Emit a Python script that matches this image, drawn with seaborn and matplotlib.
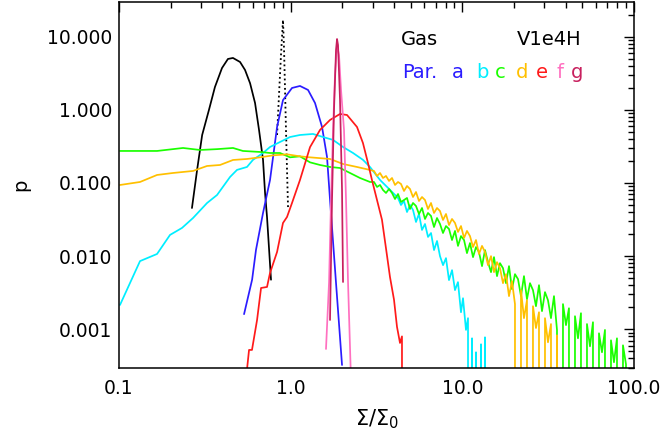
import matplotlib
matplotlib.use("Agg")
import matplotlib.pyplot as plt
from matplotlib.ticker import FixedLocator, FixedFormatter, NullFormatter
import pandas as pd
import seaborn as sns

# ---- probability distributions of Sigma/Sigma_0 -------------------------
gas_x = [0.266, 0.285, 0.305, 0.334, 0.362, 0.398, 0.431, 0.461, 0.507, 0.542,
         0.580, 0.620, 0.654, 0.690, 0.709, 0.728, 0.768]
gas_y = [0.0455, 0.151, 0.453, 0.995, 2.05, 3.73, 4.96, 5.12, 4.51, 3.51,
         2.31, 1.24, 0.531, 0.207, 0.073, 0.0343, 0.00476]

gas_dot_x = [0.833, 0.855, 0.878, 0.902, 0.915, 0.927, 0.939, 0.952, 0.965]
gas_dot_y = [0.453, 1.60, 5.62, 16.9, 6.58, 1.87, 0.531, 0.151, 0.0469]

a_x = [0.535, 0.596, 0.628, 0.690, 0.758, 0.833, 0.902, 1.018, 1.133, 1.262,
       1.386, 1.523, 1.628, 1.695, 1.837, 1.991]
a_y = [0.00161, 0.00476, 0.0122, 0.0389, 0.110, 0.583, 1.36, 1.99, 2.12, 1.87,
       1.24, 0.583, 0.227, 0.0589, 0.00429, 0.000325]

b_x = [0.1013, 0.1325, 0.1665, 0.1982, 0.2328, 0.2698, 0.3256, 0.3724, 0.4433,
       0.4868, 0.5566, 0.603, 0.690, 0.758, 0.867, 0.991, 1.133, 1.349, 1.543,
       1.765, 2.018, 2.308, 2.638, 2.898, 3.314, 3.789,
       4.22, 4.39, 4.57, 4.76, 4.96, 5.16, 5.37, 5.59, 5.82, 6.06, 6.31, 6.57,
       6.84, 7.12, 7.41, 7.72, 8.03, 8.36, 8.71, 9.06, 9.43, 9.82, 10.09, 10.50,
       10.79, 11.08, 11.39, 11.70, 12.01, 12.34, 12.85, 13.19, 13.55, 13.92]
b_y = [0.00215, 0.00855, 0.0107, 0.0195, 0.0243, 0.0332, 0.0532, 0.0685, 0.1208,
       0.151, 0.1656, 0.207, 0.257, 0.3105, 0.3634, 0.425, 0.453, 0.468, 0.425,
       0.388, 0.3105, 0.257, 0.207, 0.1654, 0.110, 0.0806,
       0.0624, 0.0500, 0.0567, 0.0401, 0.0500, 0.0427, 0.0293, 0.0377, 0.0228,
       0.0275, 0.0183, 0.0207, 0.0121, 0.0161, 0.0100, 0.00753, 0.00939,
       0.00470, 0.00643, 0.00343, 0.00441, 0.00171, 0.00266, 0.00098, 0.00142,
       0.0, 0.000753, 0.0, 0.000485, 0.0, 0.000624, 0.0, 0.000777, 0.0]

c_x = [0.1013, 0.1665, 0.236, 0.2964, 0.3724, 0.4614, 0.527, 0.663, 0.758, 0.867,
       0.991, 1.133, 1.296, 1.482, 1.695, 1.938, 2.216, 2.534, 2.898,
       3.058, 3.184, 3.314, 3.450, 3.592, 3.740, 3.893, 4.053, 4.220, 4.393,
       4.573, 4.760, 4.955, 5.159, 5.370, 5.591, 5.821, 6.060, 6.308, 6.568,
       6.837, 7.118, 7.410, 7.715, 8.032, 8.362, 8.705, 9.063, 9.434, 9.821,
       10.23, 10.64, 11.08, 11.54, 12.01, 12.50, 13.02, 13.55, 14.11, 14.69,
       15.29, 15.92, 16.57, 17.25, 17.96, 18.70, 19.46, 20.26, 21.10, 21.96,
       22.86, 23.80, 24.78, 25.79, 26.85, 27.96, 29.11, 30.30, 31.54, 32.84,
       34.19, 35.59, 37.05, 38.57, 40.16, 41.80, 43.52, 45.31, 47.17, 49.10,
       51.12, 53.22, 55.41, 57.68, 60.05, 62.52, 65.09, 67.75, 70.54, 73.44,
       76.45, 79.59, 82.86, 86.26, 89.81, 93.48]
c_y = [0.274, 0.274, 0.301, 0.2826, 0.2902, 0.301, 0.274, 0.2655, 0.257, 0.257,
       0.2242, 0.2313, 0.1915, 0.1762, 0.1655, 0.1603, 0.137, 0.117, 0.1032,
       0.1032, 0.0882, 0.0939, 0.0802, 0.0730, 0.0828, 0.0730, 0.0604, 0.0707,
       0.0550, 0.0585, 0.0624, 0.0441, 0.0533, 0.0485, 0.0377, 0.0455, 0.0322,
       0.0389, 0.0354, 0.0250, 0.0332, 0.0275, 0.0207, 0.0258, 0.0235, 0.0166,
       0.0221, 0.0138, 0.0188, 0.0166, 0.0110, 0.0151, 0.00969, 0.0133, 0.0114,
       0.00730, 0.0121, 0.00828, 0.00604, 0.00969, 0.00533, 0.00802, 0.00685,
       0.00427, 0.00730, 0.00354, 0.00567, 0.00485, 0.00284, 0.00533, 0.00258,
       0.00427, 0.00343, 0.00207, 0.00401, 0.00177, 0.00322, 0.00250, 0.00142,
       0.00284, 0.00098, 0.0, 0.00221, 0.00114, 0.00194, 0.0, 0.00151,
       0.000753, 0.00166, 0.0, 0.00118, 0.000585, 0.00125, 0.0, 0.000882,
       0.000485, 0.00098, 0.0, 0.000707, 0.000354, 0.000753, 0.0, 0.000604,
       0.000332, 0.0]

d_x = [0.1013, 0.1325, 0.1665, 0.2063, 0.2698, 0.3256, 0.3876, 0.4614, 0.5566,
       0.663, 0.789, 0.952, 1.133, 1.296, 1.695, 2.018, 2.434, 2.898,
       3.058, 3.184, 3.314, 3.450, 3.592, 3.740, 3.893, 4.053, 4.220, 4.393,
       4.573, 4.760, 4.955, 5.159, 5.370, 5.591, 5.821, 6.060, 6.308, 6.568,
       6.837, 7.118, 7.410, 7.715, 8.032, 8.362, 8.705, 9.063, 9.434, 9.821,
       10.23, 10.64, 11.08, 11.54, 12.01, 12.50, 13.02, 13.55, 14.11, 14.69,
       15.29, 15.92, 16.57, 17.25, 17.96, 18.70, 19.46, 20.26, 21.10, 21.96,
       22.86, 23.80, 24.78, 25.79, 26.85, 27.96, 29.11, 30.30, 31.54, 32.84,
       34.19, 35.59, 37.05]
d_y = [0.0939, 0.1032, 0.1287, 0.137, 0.146, 0.1708, 0.1762, 0.2063, 0.2129,
       0.2242, 0.2386, 0.2464, 0.2313, 0.2242, 0.2129, 0.1819, 0.1655, 0.1506,
       0.1459, 0.1247, 0.137, 0.1171, 0.1247, 0.1065, 0.1171, 0.0939, 0.1032,
       0.0969, 0.0777, 0.0910, 0.0828, 0.0643, 0.0753, 0.0567, 0.0643, 0.0585,
       0.0441, 0.0533, 0.0389, 0.0455, 0.0414, 0.0312, 0.0377, 0.0266, 0.0322,
       0.0284, 0.0214, 0.0258, 0.0177, 0.0221, 0.0188, 0.0133, 0.0166, 0.0107,
       0.0138, 0.0114, 0.00753, 0.0100, 0.00604, 0.00828, 0.00685, 0.00427,
       0.00567, 0.00284, 0.00455, 0.00221, 0.0, 0.00343, 0.00142, 0.00250,
       0.0, 0.00207, 0.00104, 0.00171, 0.0, 0.00142, 0.000664, 0.00118, 0.0,
       0.000828, 0.0]

e_x = [0.548, 0.572, 0.595, 0.637, 0.672, 0.728, 0.758, 0.833, 0.902, 0.952,
       1.018, 1.133, 1.296, 1.482, 1.695, 1.938, 2.129, 2.434, 2.636, 2.82,
       2.975, 3.181, 3.402, 3.589, 3.789, 3.998, 4.162, 4.333, 4.45, 4.573]
e_y = [0.0002, 0.000522, 0.000522, 0.00134, 0.00367, 0.00379, 0.00589, 0.0114,
       0.0284, 0.0343, 0.0533, 0.110, 0.309, 0.531, 0.727, 0.878, 0.85, 0.583,
       0.352, 0.1877, 0.110, 0.0589, 0.0315, 0.0129, 0.00518, 0.00254, 0.00108,
       0.00065, 0.0008, 0.0]

f_x = [1.606, 1.673, 1.718, 1.765, 1.812, 1.862, 1.912, 1.965, 2.045, 2.101,
       2.158, 2.246]
f_y = [0.000538, 0.00443, 0.0586, 0.530, 3.0, 7.7, 5.62, 1.868, 0.530, 0.0586,
       0.00443, 0.0002]

g_x = [1.695, 1.741, 1.788, 1.837, 1.862, 1.887, 1.938, 1.991, 2.018]
g_y = [0.00134, 0.0586, 0.995, 6.58, 9.30, 7.70, 1.36, 0.0802, 0.00443]

x_ticks = [0.1, 1.0, 10.0, 100.0]
x_tick_labels = ["0.1", "1.0", "10.0", "100.0"]
y_ticks = [0.001, 0.01, 0.1, 1.0, 10.0]
y_tick_labels = ["0.001", "0.010", "0.100", "1.000", "10.000"]

particle_labels = ["a", "b", "c", "d", "e", "f", "g"]
particle_colors = ["#2b1cff", "#00eeff", "#1aff00", "#ffc000", "#ff1a1a",
                   "#ff70c0", "#c8205e"]

# ---- figure ---------------------------------------------------------------
sns.set_style("white")
plt.rcParams["font.family"] = ["DejaVu Sans"]

fig = plt.figure(figsize=(6.62, 4.34), dpi=100)
ax = fig.add_axes([0.1798, 0.1528, 0.7779, 0.8426])

lw = 1.25
sns.lineplot(x=gas_x, y=gas_y, ax=ax, color="black", lw=lw, sort=False,
             estimator=None)
sns.lineplot(x=gas_dot_x, y=gas_dot_y, ax=ax, color="black", lw=1.3,
             sort=False, estimator=None, dashes=False, linestyle=(0, (1.0, 1.6)))

series = [(a_x, a_y), (b_x, b_y), (c_x, c_y), (d_x, d_y),
          (e_x, e_y), (f_x, f_y), (g_x, g_y)]
for (sx, sy), col in zip(series, particle_colors):
    df = pd.DataFrame({"s": sx, "p": sy})
    sns.lineplot(data=df, x="s", y="p", ax=ax, color=col, lw=lw, sort=False,
                 estimator=None)

ax.set_xscale("log")
ax.set_yscale("log")
ax.set_xlim(0.1, 100)
ax.set_ylim(2.985e-4, 29.8)

ax.xaxis.set_major_locator(FixedLocator(x_ticks))
ax.xaxis.set_major_formatter(FixedFormatter(x_tick_labels))
ax.yaxis.set_major_locator(FixedLocator(y_ticks))
ax.yaxis.set_major_formatter(FixedFormatter(y_tick_labels))
ax.xaxis.set_minor_formatter(NullFormatter())
ax.yaxis.set_minor_formatter(NullFormatter())

ax.tick_params(which="both", direction="in", top=True, right=True,
               color="black", width=1.0, labelsize=13.5, labelcolor="black")
ax.tick_params(which="major", length=7.2)
ax.tick_params(which="minor", length=4.0)
ax.tick_params(axis="x", which="major", pad=8)
ax.tick_params(axis="y", which="major", pad=5)

for sp in ax.spines.values():
    sp.set_color("black")
    sp.set_linewidth(1.1)

ax.set_xlabel(r"$\Sigma/\Sigma_0$", fontsize=15, color="black", labelpad=7)
ax.set_ylabel("p", fontsize=14, color="black")
ax.yaxis.set_label_coords(-0.172, 0.5)

fig.text(0.6057, 0.8963, "Gas", fontsize=14, color="black", va="baseline")
fig.text(0.781, 0.8963, "V1e4H", fontsize=14, color="black", va="baseline")
fig.text(0.6073, 0.8203, "Par.", fontsize=14, color=particle_colors[0],
         va="baseline")
label_x = [0.6918, 0.7281, 0.7553, 0.7885, 0.8187, 0.8459, 0.8716]
for lx, lab, col in zip(label_x, particle_labels, particle_colors):
    fig.text(lx, 0.8203, lab, fontsize=14, color=col, va="baseline", ha="center")

fig.savefig("out.png", dpi=100)
